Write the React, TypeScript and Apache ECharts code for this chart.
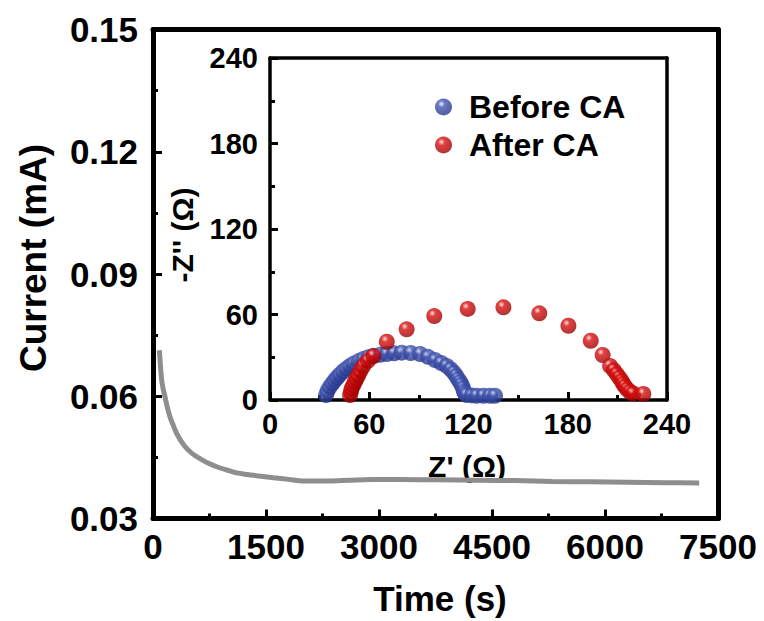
import React, { useEffect, useRef } from "react";
import * as echarts from "echarts";

// Main chronoamperometry curve
const timeS = [84, 100, 115, 135, 159, 190, 226, 270, 314, 380, 447, 530, 624, 730, 845, 980, 1111, 1250, 1376, 1600, 1800, 2000, 2300, 2600, 2900, 3300, 3800, 4300, 4800, 5300, 5800, 6300, 6800, 7250];
const currentMA = [0.0713, 0.0672, 0.064, 0.0618, 0.0599, 0.0573, 0.0549, 0.0528, 0.0509, 0.0488, 0.0472, 0.0458, 0.0447, 0.0436, 0.0427, 0.0419, 0.0412, 0.0408, 0.0405, 0.04, 0.0396, 0.0392, 0.0392, 0.0394, 0.0396, 0.0396, 0.0395, 0.0394, 0.0393, 0.0391, 0.039, 0.0389, 0.0388, 0.0387];

// Inset EIS (Nyquist) data
const beforeZre = [33.9, 34.8, 36.3, 37.8, 39.3, 40.8, 42.3, 44.3, 46.4, 48.6, 50.8, 53.6, 56.4, 59.4, 62.5, 66.5, 70.6, 75.0, 79.6, 85.0, 90.7, 95.5, 99.8, 103.5, 106.8, 109.2, 111.2, 112.6, 113.8, 115.0, 115.9, 116.7, 117.3, 118.0, 118.9, 122.0, 125.0, 129.0, 133.0, 136.0];
const beforeZim = [3.5, 6.5, 9.4, 11.8, 14.0, 16.0, 18.0, 20.2, 22.2, 24.0, 25.7, 27.3, 28.8, 30.0, 30.9, 31.7, 32.3, 32.8, 33.2, 33.0, 32.3, 30.3, 28.0, 26.0, 23.9, 21.6, 19.2, 16.8, 14.5, 12.5, 10.5, 8.2, 5.8, 4.5, 3.5, 3.2, 3.0, 3.0, 3.0, 3.0];
const afterZre = [48.4, 48.9, 49.4, 50.4, 51.4, 52.4, 53.4, 54.8, 56.4, 59.2, 62.5, 70.6, 82.6, 99.3, 119.5, 141.1, 162.8, 180.4, 193.9, 201.1, 205.6, 207.8, 209.6, 211.2, 212.6, 213.6, 214.6, 216.0, 217.6, 219.5, 225.7];
const afterZim = [3.5, 5.8, 8.2, 10.5, 12.9, 15.2, 17.5, 20.7, 23.9, 27.5, 30.9, 40.9, 49.6, 58.9, 63.9, 65.0, 60.8, 52.1, 41.6, 31.6, 23.9, 21.0, 18.2, 15.7, 13.3, 11.3, 9.4, 7.5, 5.8, 4.6, 4.2];

const FONT = "'Liberation Sans', Arial, Helvetica, sans-serif";

function sphere(base: string, dark: string, light: string) {
  return new echarts.graphic.RadialGradient(0.38, 0.32, 0.68, [
    { offset: 0, color: light },
    { offset: 0.3, color: base },
    { offset: 1, color: dark },
  ]);
}

export default function App() {
  const ref = useRef<HTMLDivElement>(null);
  useEffect(() => {
    if (!ref.current) return;
    const chart = echarts.init(ref.current, undefined, { renderer: "svg" });
    const lineData = timeS.map((t, i) => [t, currentMA[i]]);
    const before = beforeZre.map((x, i) => [x, beforeZim[i]]);
    const after = afterZre.map((x, i) => [x, afterZim[i]]);
    const blue = sphere("#4257b0", "#26348a", "#e4e8f8");
    const red = sphere("#d91010", "#9e0000", "#fbdada");
    const mainLabel = { color: "#000", fontFamily: FONT, fontWeight: "bold" as const, fontSize: 35 };
    const insetLabel = { color: "#000", fontFamily: FONT, fontWeight: "bold" as const, fontSize: 29 };
    const mainLine = () => ({ show: true, onZero: false, lineStyle: { color: "#000", width: 5 } });
    const insetLine = () => ({ show: true, onZero: false, lineStyle: { color: "#000", width: 3.5 } });
    const tick = (len: number) => ({ show: true, inside: true, length: len, lineStyle: { width: 3, color: "#000" } });
    const minor = () => ({ show: true, splitNumber: 2, length: 5, lineStyle: { width: 3, color: "#000" } });
    const frame = (gridIndex: number, min: number, max: number, position: string, line: any) => ({
      type: "value", gridIndex, min, max, position, axisLine: line,
      axisTick: { show: false }, axisLabel: { show: false }, splitLine: { show: false },
    });
    chart.setOption({
      animation: false,
      backgroundColor: "#fff",
      grid: [
        { left: 153, top: 29.5, width: 565, height: 489 },
        { left: 270, top: 58, width: 397, height: 342 },
      ],
      xAxis: [
        {
          type: "value", gridIndex: 0, min: 0, max: 7500, interval: 1500, position: "bottom",
          axisLine: mainLine(), splitLine: { show: false },
          axisTick: tick(9), minorTick: minor(),
          axisLabel: { ...mainLabel, margin: 10, formatter: (v: number) => String(v) },
        },
        {
          type: "value", gridIndex: 1, min: 0, max: 240, interval: 60, position: "bottom",
          axisLine: insetLine(), splitLine: { show: false },
          axisTick: tick(8), minorTick: minor(),
          axisLabel: { ...insetLabel, margin: 9, formatter: (v: number) => String(v) },
        },
        frame(0, 0, 7500, "top", mainLine()),
        frame(1, 0, 240, "top", insetLine()),
      ],
      yAxis: [
        {
          type: "value", gridIndex: 0, min: 0.03, max: 0.15, interval: 0.03, position: "left",
          axisLine: mainLine(), splitLine: { show: false },
          axisTick: tick(9), minorTick: minor(),
          axisLabel: { ...mainLabel, margin: 15, formatter: (v: number) => v.toFixed(2) },
        },
        {
          type: "value", gridIndex: 1, min: 0, max: 240, interval: 60, position: "left",
          axisLine: insetLine(), splitLine: { show: false },
          axisTick: tick(8), minorTick: minor(),
          axisLabel: { ...insetLabel, margin: 12, formatter: (v: number) => String(v) },
        },
        frame(0, 0.03, 0.15, "right", mainLine()),
        frame(1, 0, 240, "right", insetLine()),
      ],
      legend: {
        orient: "vertical",
        left: 435,
        top: 91,
        padding: 0,
        itemWidth: 17,
        itemHeight: 17,
        itemGap: 6,
        icon: "circle",
        textStyle: { color: "#000", fontFamily: FONT, fontWeight: "bold", fontSize: 32, padding: [0, 0, 0, 12] },
        data: ["Before CA", "After CA"],
      },
      graphic: [
        { type: "text", x: 33, y: 258, rotation: Math.PI / 2, style: { text: "Current (mA)", fill: "#000", font: `bold 37px ${FONT}`, textAlign: "center", textVerticalAlign: "middle" } },
        { type: "text", x: 440, y: 598, style: { text: "Time (s)", fill: "#000", font: `bold 35px ${FONT}`, textAlign: "center", textVerticalAlign: "middle" } },
        { type: "text", x: 182, y: 235, rotation: Math.PI / 2, style: { text: "-Z'' (Ω)", fill: "#000", font: `bold 30px ${FONT}`, textAlign: "center", textVerticalAlign: "middle" } },
        { type: "text", x: 467, y: 466, style: { text: "Z' (Ω)", fill: "#000", font: `bold 30px ${FONT}`, textAlign: "center", textVerticalAlign: "middle" } },
      ],
      series: [
        {
          type: "line", xAxisIndex: 0, yAxisIndex: 0, data: lineData, smooth: 0.3,
          showSymbol: false, lineStyle: { color: "#8e8e8e", width: 5 }, z: 2,
        },
        {
          name: "Before CA", type: "scatter", xAxisIndex: 1, yAxisIndex: 1, data: before,
          symbolSize: 16, itemStyle: { color: blue }, z: 3,
        },
        {
          name: "After CA", type: "scatter", xAxisIndex: 1, yAxisIndex: 1, data: after,
          symbolSize: 16, itemStyle: { color: red }, z: 4,
        },
      ],
    });
    return () => chart.dispose();
  }, []);
  return <div ref={ref} style={{ width: 764, height: 621, position: "absolute", left: 0, top: 0 }} />;
}
